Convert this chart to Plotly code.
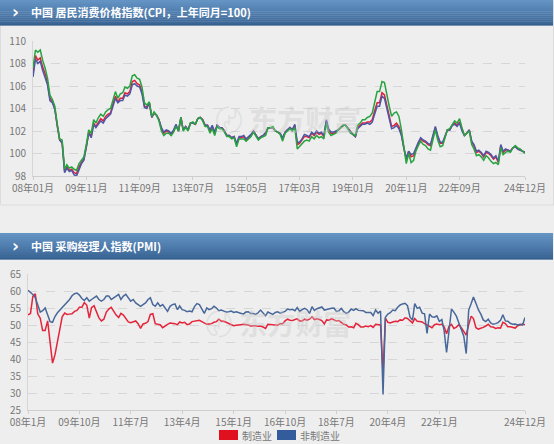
import pandas as pd
import plotly.graph_objects as go

# 月份 2008-01 ~ 2024-12
months = pd.date_range("2008-01-01", "2024-12-01", freq="MS")

# CPI（上年同月=100）全国 / 城市 / 农村
cpi_national = [
    107.1, 108.7, 108.3, 108.5, 107.7, 107.1, 106.3, 104.9, 104.6, 104.0, 102.4, 101.2,
    101.0, 98.4, 98.8, 98.5, 98.6, 98.3, 98.2, 98.8, 99.2, 99.5, 100.6, 101.9,
    101.5, 102.7, 102.4, 102.8, 103.1, 102.9, 103.3, 103.5, 103.6, 104.4, 105.1, 104.6,
    104.9, 104.9, 105.4, 105.3, 105.5, 106.4, 106.5, 106.2, 106.1, 105.5, 104.2, 104.1,
    104.5, 103.2, 103.6, 103.4, 103.0, 102.2, 101.8, 102.0, 101.9, 101.7, 102.0, 102.5,
    102.0, 103.2, 102.1, 102.4, 102.1, 102.7, 102.7, 102.6, 103.1, 103.2, 103.0, 102.5,
    102.5, 102.0, 102.4, 101.8, 102.5, 102.3, 102.3, 102.0, 101.6, 101.6, 101.4, 101.5,
    100.8, 101.4, 101.4, 101.5, 101.2, 101.4, 101.6, 102.0, 101.6, 101.3, 101.5, 101.6,
    101.8, 102.3, 102.3, 102.3, 102.0, 101.9, 101.8, 101.3, 101.9, 102.1, 102.3, 102.1,
    102.5, 100.8, 100.9, 101.2, 101.5, 101.5, 101.4, 101.8, 101.6, 101.9, 101.7, 101.8,
    101.5, 102.9, 102.1, 101.8, 101.8, 101.9, 102.1, 102.3, 102.5, 102.5, 102.2, 101.9,
    101.7, 101.5, 102.3, 102.5, 102.7, 102.7, 102.8, 102.8, 103.0, 103.8, 104.5, 104.5,
    105.4, 105.2, 104.3, 103.3, 102.4, 102.5, 102.7, 102.4, 101.7, 100.5, 99.5, 100.2,
    99.7, 99.8, 100.4, 100.9, 101.3, 101.1, 101.0, 100.8, 100.7, 101.5, 102.3, 101.5,
    100.9, 100.9, 101.5, 102.1, 102.1, 102.5, 102.7, 102.5, 102.8, 102.1, 101.6, 101.8,
    102.1, 101.0, 100.7, 100.1, 100.2, 100.0, 99.7, 100.1, 100.0, 99.8, 99.5, 99.7,
    99.2, 100.7, 100.1, 100.3, 100.3, 100.2, 100.5, 100.6, 100.4, 100.3, 100.2, 100.1,
]
cpi_urban = [
    106.8, 108.4, 108.0, 108.2, 107.4, 106.8, 106.1, 104.7, 104.5, 103.9, 102.3, 101.2,
    100.9, 98.3, 98.7, 98.4, 98.5, 98.1, 98.0, 98.6, 99.1, 99.4, 100.5, 101.8,
    101.4, 102.6, 102.3, 102.6, 102.9, 102.7, 103.1, 103.3, 103.5, 104.2, 104.9, 104.5,
    104.7, 104.7, 105.2, 105.1, 105.3, 106.1, 106.2, 106.0, 105.9, 105.3, 104.1, 104.0,
    104.5, 103.2, 103.6, 103.4, 103.0, 102.3, 101.9, 102.1, 102.0, 101.8, 102.1, 102.6,
    102.0, 103.2, 102.1, 102.4, 102.1, 102.7, 102.7, 102.6, 103.1, 103.2, 103.0, 102.5,
    102.5, 102.1, 102.5, 101.9, 102.5, 102.3, 102.3, 102.0, 101.6, 101.6, 101.4, 101.5,
    100.9, 101.5, 101.5, 101.6, 101.3, 101.5, 101.7, 102.0, 101.6, 101.3, 101.5, 101.6,
    101.9, 102.3, 102.3, 102.3, 102.0, 101.9, 101.8, 101.4, 101.9, 102.1, 102.3, 102.1,
    102.6, 101.0, 101.0, 101.3, 101.7, 101.6, 101.5, 101.9, 101.7, 102.0, 101.8, 101.9,
    101.6, 103.0, 102.2, 101.9, 101.9, 102.0, 102.1, 102.3, 102.5, 102.5, 102.2, 101.9,
    101.7, 101.5, 102.2, 102.4, 102.6, 102.6, 102.7, 102.6, 102.8, 103.5, 104.2, 104.2,
    105.1, 104.9, 104.0, 103.0, 102.2, 102.3, 102.5, 102.2, 101.6, 100.5, 99.6, 100.2,
    99.9, 100.0, 100.5, 101.0, 101.4, 101.2, 101.1, 100.9, 100.8, 101.6, 102.4, 101.6,
    101.0, 101.0, 101.5, 102.1, 102.1, 102.5, 102.6, 102.4, 102.7, 102.0, 101.6, 101.8,
    102.1, 101.1, 100.8, 100.2, 100.3, 100.1, 99.8, 100.2, 100.1, 99.9, 99.6, 99.8,
    99.3, 100.8, 100.2, 100.4, 100.3, 100.2, 100.5, 100.6, 100.4, 100.3, 100.2, 100.1,
]
cpi_rural = [
    107.6, 109.2, 109.0, 109.2, 108.3, 107.6, 106.7, 105.2, 104.8, 104.2, 102.6, 101.3,
    101.2, 98.6, 99.0, 98.7, 98.8, 98.6, 98.5, 99.1, 99.4, 99.7, 100.8, 102.1,
    101.8, 103.0, 102.7, 103.2, 103.5, 103.3, 103.7, 103.9, 104.0, 104.8, 105.5, 104.9,
    105.3, 105.4, 105.9, 105.8, 106.0, 106.9, 107.0, 106.7, 106.6, 105.9, 104.5, 104.3,
    104.6, 103.3, 103.7, 103.4, 102.9, 102.0, 101.6, 101.8, 101.8, 101.6, 101.9, 102.4,
    102.0, 103.2, 102.0, 102.3, 102.0, 102.7, 102.8, 102.6, 103.1, 103.2, 102.9, 102.4,
    102.4, 101.8, 102.2, 101.6, 102.4, 102.2, 102.2, 101.9, 101.5, 101.5, 101.3, 101.4,
    100.6, 101.3, 101.3, 101.3, 101.1, 101.3, 101.5, 101.9, 101.5, 101.2, 101.4, 101.5,
    101.6, 102.3, 102.3, 102.4, 102.0, 101.9, 101.7, 101.1, 101.8, 102.0, 102.2, 102.0,
    102.3, 100.4, 100.6, 100.9, 101.1, 101.2, 101.1, 101.5, 101.3, 101.6, 101.4, 101.5,
    101.3, 102.7, 101.9, 101.6, 101.7, 101.8, 102.1, 102.3, 102.5, 102.5, 102.2, 101.8,
    101.7, 101.6, 102.5, 102.7, 103.0, 103.0, 103.2, 103.3, 103.6, 104.6, 105.5, 105.5,
    106.4, 106.3, 105.2, 104.2, 103.3, 103.6, 103.7, 103.3, 102.1, 100.4, 99.1, 100.0,
    99.2, 99.4, 100.2, 100.7, 101.1, 100.8, 100.7, 100.4, 100.3, 101.2, 102.1, 101.2,
    100.6, 100.7, 101.4, 102.1, 102.2, 102.6, 102.9, 102.7, 103.1, 102.3, 101.6, 101.8,
    102.0, 100.8, 100.4, 99.8, 99.9, 99.7, 99.4, 99.8, 99.6, 99.3, 99.1, 99.2,
    99.0, 100.5, 99.9, 100.1, 100.2, 100.1, 100.5, 100.7, 100.5, 100.4, 100.2, 100.0,
]

# PMI 制造业 / 非制造业
pmi_manu = [
    53.0, 53.4, 58.4, 59.2, 53.3, 52.0, 48.4, 48.4, 51.2, 44.6, 38.8, 41.2,
    45.3, 49.0, 52.4, 53.5, 53.1, 53.2, 53.3, 54.0, 54.3, 55.2, 55.2, 56.6,
    55.8, 52.0, 55.1, 55.7, 53.9, 52.1, 51.2, 51.7, 53.8, 54.7, 55.2, 53.9,
    52.9, 52.2, 53.4, 52.9, 52.0, 50.9, 50.7, 50.9, 51.2, 50.4, 49.0, 50.3,
    50.5, 51.0, 53.1, 53.3, 50.4, 50.2, 50.1, 49.2, 49.8, 50.2, 50.6, 50.6,
    50.4, 50.1, 50.9, 50.6, 50.8, 50.1, 50.3, 51.0, 51.1, 51.4, 51.4, 51.0,
    50.5, 50.2, 50.3, 50.4, 50.8, 51.0, 51.7, 51.1, 51.1, 50.8, 50.3, 50.1,
    49.8, 49.9, 50.1, 50.1, 50.2, 50.2, 50.0, 49.7, 49.8, 49.8, 49.6, 49.7,
    49.4, 49.0, 50.2, 50.1, 50.1, 50.0, 49.9, 50.4, 50.4, 51.2, 51.7, 51.4,
    51.3, 51.6, 51.8, 51.2, 51.2, 51.7, 51.4, 51.7, 52.4, 51.6, 51.8, 51.6,
    51.3, 50.3, 51.5, 51.4, 51.9, 51.5, 51.2, 51.3, 50.8, 50.2, 50.0, 49.4,
    49.5, 49.2, 50.5, 50.1, 49.4, 49.4, 49.7, 49.5, 49.8, 49.3, 50.2, 50.2,
    50.0, 35.7, 52.0, 50.8, 50.6, 50.9, 51.1, 51.0, 51.5, 51.4, 52.1, 51.9,
    51.3, 50.6, 51.9, 51.1, 51.0, 50.9, 50.4, 50.1, 49.6, 49.2, 50.1, 50.3,
    50.1, 50.2, 49.5, 47.4, 49.6, 50.2, 49.0, 49.4, 50.1, 49.2, 48.0, 47.0,
    50.1, 52.6, 51.9, 49.2, 48.8, 49.0, 49.3, 49.7, 50.2, 49.5, 49.4, 49.0,
    49.2, 49.1, 50.8, 50.4, 49.5, 49.5, 49.4, 49.1, 49.8, 50.1, 50.3, 50.1,
]
pmi_nonmanu = [
    60.2, 59.6, 59.0, 58.0, 56.2, 53.8, 54.2, 55.0, 53.0, 51.0, 50.8, 52.5,
    53.6, 54.4, 55.0, 56.0, 56.8, 57.5, 58.6, 59.2, 59.4, 58.8, 57.8, 57.2,
    58.0, 57.0, 57.5, 58.0, 58.5, 57.5, 57.0, 57.5, 58.5, 58.5, 57.5, 58.0,
    58.5, 59.0, 57.5, 58.5, 59.0, 58.0, 57.0, 57.5, 56.5, 56.0, 55.5, 56.0,
    56.5, 57.5, 58.0, 56.0, 55.5, 56.5, 55.5, 56.0, 55.0, 54.0, 55.5, 56.0,
    56.2, 54.5, 55.6, 54.5, 54.3, 53.9, 54.1, 53.9, 55.4, 56.3, 56.0, 54.6,
    53.4, 55.0, 54.5, 54.8, 55.5, 55.0, 54.2, 54.4, 54.0, 53.8, 53.9, 54.1,
    53.7, 53.9, 53.7, 53.4, 53.2, 53.8, 53.9, 53.4, 53.4, 53.1, 53.6, 54.4,
    53.5, 52.7, 53.8, 53.5, 53.1, 53.7, 53.9, 53.5, 53.7, 54.0, 54.7, 54.5,
    54.6, 54.2, 55.1, 54.0, 54.5, 54.9, 54.5, 53.4, 55.4, 54.3, 54.8, 55.0,
    55.3, 54.4, 54.6, 54.8, 54.9, 55.0, 54.0, 54.2, 54.9, 53.9, 53.4, 53.8,
    54.7, 54.3, 54.8, 54.3, 54.3, 54.2, 53.7, 53.8, 53.7, 52.8, 54.4, 53.5,
    54.1, 29.6, 52.3, 53.2, 53.6, 54.4, 54.2, 55.2, 55.9, 56.2, 56.4, 55.7,
    52.4, 51.4, 56.3, 54.9, 55.2, 53.5, 53.3, 47.5, 53.2, 52.4, 52.3, 52.7,
    51.1, 51.6, 48.4, 41.9, 47.8, 54.7, 53.8, 52.6, 50.6, 48.7, 46.7, 41.6,
    54.4, 56.3, 58.2, 56.4, 54.5, 53.2, 51.5, 51.0, 51.7, 50.6, 50.2, 50.4,
    50.7, 51.4, 53.0, 51.2, 51.1, 50.5, 50.2, 50.3, 50.0, 50.2, 50.0, 52.2,
]

cpi_tick_text = ["08年01月", "09年11月", "11年09月", "13年07月", "15年05月",
                 "17年03月", "19年01月", "20年11月", "22年09月", "24年12月"]
pmi_tick_text = ["08年1月", "09年10月", "11年7月", "13年4月", "15年1月",
                 "16年10月", "18年7月", "20年4月", "22年1月", "24年12月"]

cpi_tick_vals = list(months[::22][:9]) + [months[-1]]
pmi_tick_vals = list(months[::21][:9]) + [months[-1]]

W, H = 554, 444
FONT = "Noto Sans CJK SC"


def px(x):
    return x / W


def py(y):
    return 1 - y / H


fig = go.Figure()

# 上图 CPI
for name, vals, color in [("全国", cpi_national, "#e0203a"),
                          ("城市", cpi_urban, "#4f56a6"),
                          ("农村", cpi_rural, "#27a340")]:
    fig.add_trace(go.Scatter(x=months, y=vals, name=name, mode="lines",
                             line=dict(color=color, width=1.5),
                             xaxis="x", yaxis="y", showlegend=False))

# 下图 PMI
fig.add_trace(go.Scatter(x=months, y=pmi_manu, name="制造业", mode="lines",
                         line=dict(color="#e5243b", width=1.5),
                         xaxis="x2", yaxis="y2", showlegend=False))
fig.add_trace(go.Scatter(x=months, y=pmi_nonmanu, name="非制造业", mode="lines",
                         line=dict(color="#48689a", width=1.5),
                         xaxis="x2", yaxis="y2", showlegend=False))

axis_font = dict(family=FONT, size=10, color="#777777")
common_x = dict(type="date", showgrid=False, showline=True, linecolor="#cfcfcf",
                ticks="outside", ticklen=3, tickcolor="#cfcfcf", tickangle=0,
                tickfont=axis_font, range=[months[0], months[-1]], zeroline=False,
                automargin=False)
common_y = dict(showgrid=True, gridcolor="#d6d6d6", griddash="dash", gridwidth=1,
                showline=True, linecolor="#d6d6d6", ticks="",
                tickfont=axis_font, automargin=False,
                zeroline=False, ticklabelstandoff=4)

fig.update_layout(
    width=W, height=H,
    margin=dict(l=0, r=0, t=0, b=0, autoexpand=False),
    paper_bgcolor="#eeeeee", plot_bgcolor="#eeeeee",
    font=dict(family=FONT),
    xaxis=dict(common_x, domain=[px(33), px(525)], anchor="y",
               tickvals=cpi_tick_vals, ticktext=cpi_tick_text),
    yaxis=dict(common_y, domain=[py(176), py(41)], anchor="x",
               range=[98, 110], tickvals=[98, 100, 102, 104, 106, 108, 110]),
    xaxis2=dict(common_x, domain=[px(28), px(525)], anchor="y2",
                tickvals=pmi_tick_vals, ticktext=pmi_tick_text),
    yaxis2=dict(common_y, domain=[py(410), py(274)], anchor="x2",
                range=[25, 65], tickvals=[25, 30, 35, 40, 45, 50, 55, 60, 65]),
)

# 面板边框
fig.add_shape(type="rect", xref="paper", yref="paper",
              x0=px(0.5), x1=px(553.5), y0=py(205), y1=py(0.5),
              line=dict(color="#dcdcdc", width=1), layer="below")

# 标题栏（渐变）
top_c = (100, 148, 196)
bot_c = (58, 102, 150)
for y0, y1 in [(0, 25), (233, 259)]:
    n = 13
    h = (y1 - y0) / n
    for i in range(n):
        t = i / (n - 1)
        c = tuple(int(top_c[k] + (bot_c[k] - top_c[k]) * t) for k in range(3))
        fig.add_shape(type="rect", xref="paper", yref="paper",
                      x0=0, x1=px(553), y0=py(y0 + (i + 1) * h + 0.3), y1=py(y0 + i * h),
                      fillcolor="rgb(%d,%d,%d)" % c, line=dict(width=0))
    fig.add_shape(type="line", xref="paper", yref="paper",
                  x0=0, x1=px(553), y0=py(y1), y1=py(y1),
                  line=dict(color="#2f5a88", width=1))

titles = [(12.5, "中国 居民消费价格指数(CPI，上年同月=100)"),
          (246, "中国 采购经理人指数(PMI)")]
for yc, text in titles:
    fig.add_annotation(xref="paper", yref="paper", x=px(10), y=py(yc),
                       text="<b>›</b>", showarrow=False, xanchor="left", yanchor="middle",
                       font=dict(family="DejaVu Sans", size=17, color="white"))
    fig.add_annotation(xref="paper", yref="paper", x=px(29), y=py(yc),
                       text="<b>" + text + "</b>", showarrow=False,
                       xanchor="left", yanchor="middle",
                       font=dict(family=FONT, size=11, color="white"))

# 水印
for xc, yc in [(288, 97), (278, 345)]:
    fig.add_annotation(xref="paper", yref="paper", x=px(xc), y=py(yc),
                       text="<b>〄 东方财富</b>", showarrow=False,
                       font=dict(family=FONT, size=28, color="rgba(200,200,200,0.4)"))

# 图例
legend_items = [("制造业", "#e0101f", 219), ("非制造业", "#345c9c", 277)]
for name, color, x0 in legend_items:
    fig.add_shape(type="rect", xref="paper", yref="paper",
                  x0=px(x0), x1=px(x0 + 19), y0=py(440), y1=py(430),
                  fillcolor=color, line=dict(width=0))
    fig.add_annotation(xref="paper", yref="paper", x=px(x0 + 21), y=py(435),
                       text=name, showarrow=False, xanchor="left", yanchor="middle",
                       font=dict(family=FONT, size=10, color="#777777"))

# 页面去掉默认 body 边距
fig.write_html("out.html", config={"displayModeBar": False},
               post_script="document.body.style.margin='0';"
                           "document.body.style.overflow='hidden';")
